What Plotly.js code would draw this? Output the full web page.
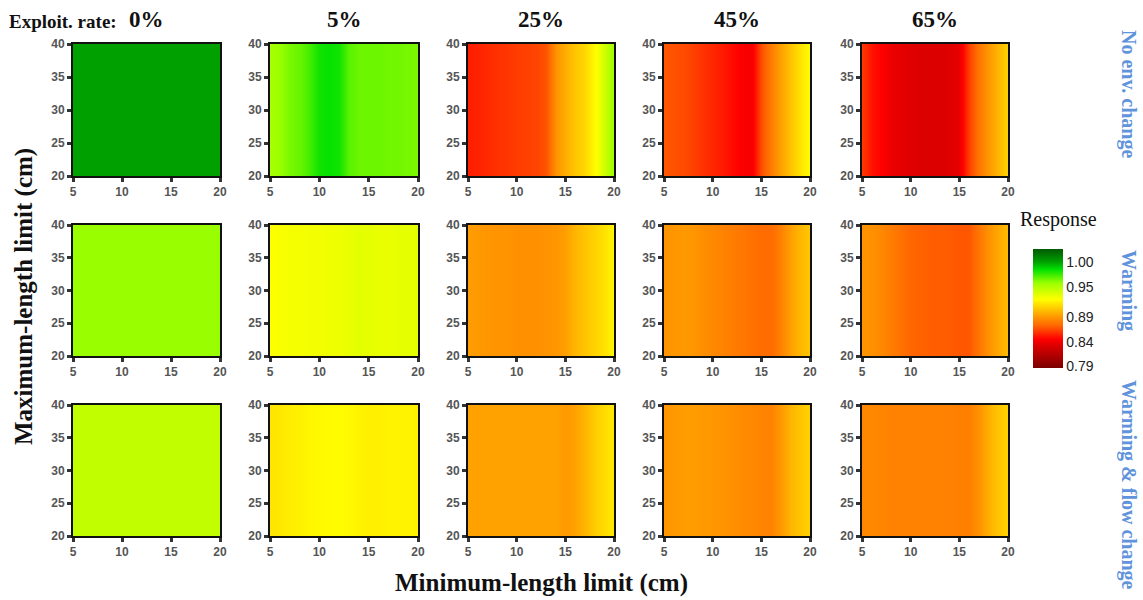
<!DOCTYPE html>
<html>
<head>
<meta charset="utf-8">
<script src="https://cdn.plot.ly/plotly-3.0.1.min.js"></script>
<style>html,body{margin:0;padding:0;background:#fff;}#chart{width:1143px;height:600px;}</style>
</head>
<body>
<div id="chart"></div>
<script>
// ---- Data ----
const minLen = [5, 6, 7, 8, 9, 10, 11, 12, 13, 14, 15, 16, 17, 18, 19, 20];
const maxLen = [20, 40];
const exploitRates = ['0%', '5%', '25%', '45%', '65%'];
const scenarios = ['No env. change', 'Warming', 'Warming & flow change'];

// No env. change
const noEnv0  = [1.000, 1.000, 1.000, 1.000, 1.000, 1.000, 1.000, 1.000, 1.000, 1.000, 1.000, 1.000, 1.000, 1.000, 1.000, 1.000];
const noEnv5  = [0.953, 0.958, 0.964, 0.967, 0.973, 0.982, 0.984, 0.982, 0.969, 0.966, 0.966, 0.966, 0.965, 0.965, 0.964, 0.963];
const noEnv25 = [0.853, 0.854, 0.856, 0.858, 0.859, 0.861, 0.862, 0.863, 0.867, 0.888, 0.897, 0.905, 0.912, 0.924, 0.940, 0.958];
const noEnv45 = [0.868, 0.866, 0.865, 0.862, 0.858, 0.855, 0.852, 0.848, 0.843, 0.842, 0.865, 0.880, 0.893, 0.905, 0.915, 0.925];
const noEnv65 = [0.860, 0.850, 0.845, 0.838, 0.835, 0.833, 0.832, 0.832, 0.832, 0.833, 0.836, 0.862, 0.878, 0.890, 0.900, 0.910];
// Warming
const warm0  = [0.958, 0.958, 0.958, 0.958, 0.958, 0.958, 0.958, 0.958, 0.958, 0.958, 0.958, 0.958, 0.958, 0.958, 0.958, 0.958];
const warm5  = [0.926, 0.927, 0.928, 0.928, 0.929, 0.929, 0.930, 0.930, 0.932, 0.934, 0.933, 0.932, 0.932, 0.933, 0.933, 0.934];
const warm25 = [0.891, 0.890, 0.889, 0.888, 0.888, 0.887, 0.887, 0.887, 0.888, 0.889, 0.892, 0.900, 0.905, 0.910, 0.915, 0.922];
const warm45 = [0.888, 0.889, 0.890, 0.889, 0.886, 0.884, 0.882, 0.880, 0.878, 0.876, 0.874, 0.874, 0.882, 0.893, 0.900, 0.906];
const warm65 = [0.888, 0.887, 0.884, 0.880, 0.876, 0.872, 0.871, 0.870, 0.870, 0.869, 0.868, 0.868, 0.878, 0.888, 0.895, 0.902];
// Warming & flow change
const flow0  = [0.945, 0.945, 0.945, 0.945, 0.945, 0.945, 0.945, 0.945, 0.945, 0.945, 0.945, 0.945, 0.945, 0.945, 0.945, 0.945];
const flow5  = [0.916, 0.917, 0.919, 0.920, 0.922, 0.923, 0.924, 0.924, 0.923, 0.921, 0.920, 0.920, 0.921, 0.921, 0.921, 0.920];
const flow25 = [0.893, 0.893, 0.893, 0.893, 0.893, 0.893, 0.893, 0.893, 0.893, 0.893, 0.890, 0.893, 0.900, 0.908, 0.913, 0.918];
const flow45 = [0.889, 0.890, 0.891, 0.891, 0.890, 0.889, 0.888, 0.887, 0.885, 0.884, 0.883, 0.882, 0.890, 0.900, 0.905, 0.910];
const flow65 = [0.884, 0.884, 0.883, 0.882, 0.882, 0.882, 0.882, 0.882, 0.882, 0.882, 0.881, 0.881, 0.888, 0.898, 0.905, 0.910];

const panels = [
  [noEnv0, noEnv5, noEnv25, noEnv45, noEnv65],
  [warm0, warm5, warm25, warm45, warm65],
  [flow0, flow5, flow25, flow45, flow65]
];

const cbTickVals = [0.79, 0.84, 0.89, 0.95, 1.00];
const cbTickText = ['0.79', '0.84', '0.89', '0.95', '1.00'];

// ---- Style ----
const zMin = 0.787, zMax = 1.026;
const scaleStops = [
  [0.787, '#7a0000'], [0.832, '#dd0000'], [0.845, '#ff0000'], [0.872, '#ff6600'],
  [0.890, '#ff9900'], [0.925, '#ffff00'], [0.958, '#99ff00'], [0.985, '#00e000'],
  [1.000, '#00a000'], [1.026, '#005a00']
];
const colorscale = scaleStops.map(s => [(s[0] - zMin) / (zMax - zMin), s[1]]);

const W = 1143, H = 600;
const colPx = [[73, 220], [270, 418], [468, 614], [664, 810], [862, 1008]];
const rowPx = [[44, 176], [225, 356], [405, 536]];

const traces = [];
const layout = {
  width: W, height: H, autosize: false,
  margin: {l: 0, r: 0, t: 0, b: 0},
  paper_bgcolor: '#fff', plot_bgcolor: '#fff',
  showlegend: false,
  annotations: []
};

const serif = 'Liberation Serif, Times New Roman, serif';
const sans = 'Liberation Sans, Arial, sans-serif';

for (let r = 0; r < 3; r++) {
  for (let c = 0; c < 5; c++) {
    const i = r * 5 + c + 1;
    const xa = i === 1 ? 'x' : 'x' + i;
    const ya = i === 1 ? 'y' : 'y' + i;
    const row = panels[r][c];
    const t = {
      type: 'heatmap',
      x: minLen, y: maxLen,
      z: maxLen.map(() => row),
      zmin: zMin, zmax: zMax,
      colorscale: colorscale,
      zsmooth: 'best',
      showscale: false,
      xaxis: xa, yaxis: ya,
      hoverinfo: 'x+y+z'
    };
    if (r === 0 && c === 0) {
      t.showscale = true;
      t.colorbar = {
        x: 1033 / W, xanchor: 'left',
        y: 1 - 308.5 / H, yanchor: 'middle',
        len: 119 / H, lenmode: 'fraction',
        thickness: 30, thicknessmode: 'pixels',
        xpad: 0, ypad: 0,
        outlinewidth: 0,
        tickmode: 'array', tickvals: cbTickVals, ticktext: cbTickText,
        ticks: '', ticklabelposition: 'outside',
        tickfont: {family: sans, size: 14, color: '#222'}
      };
    }
    traces.push(t);
    const axCommon = {
      showline: true, linecolor: '#111', linewidth: 2, mirror: true,
      ticks: 'outside', ticklen: 4, tickwidth: 3, tickcolor: '#333',
      showgrid: false, zeroline: false,
      tickfont: {family: sans, size: 12, color: '#555', weight: 'bold'}
    };
    layout['xaxis' + (i === 1 ? '' : i)] = Object.assign({}, axCommon, {
      domain: [colPx[c][0] / W, colPx[c][1] / W],
      anchor: ya, range: [5, 20], tickvals: [5, 10, 15, 20], fixedrange: true
    });
    layout['yaxis' + (i === 1 ? '' : i)] = Object.assign({}, axCommon, {
      domain: [1 - rowPx[r][1] / H, 1 - rowPx[r][0] / H],
      anchor: xa, range: [20, 40], tickvals: [20, 25, 30, 35, 40], fixedrange: true
    });
  }
}

// Column titles
layout.annotations.push({
  xref: 'paper', yref: 'paper', x: 7 / W, y: 1 - 21 / H, xanchor: 'left', yanchor: 'middle',
  text: '<b>Exploit. rate:</b>', showarrow: false,
  font: {family: serif, size: 19, color: '#111'}
});
exploitRates.forEach((e, c) => {
  layout.annotations.push({
    xref: 'paper', yref: 'paper', x: (colPx[c][0] + colPx[c][1]) / 2 / W, y: 1 - 20 / H,
    xanchor: 'center', yanchor: 'middle', text: '<b>' + e + '</b>', showarrow: false,
    font: {family: serif, size: 23, color: '#111'}
  });
});
// Row labels (right side)
const rowLabelY = [94, 290, 485];
scenarios.forEach((s, r) => {
  layout.annotations.push({
    xref: 'paper', yref: 'paper', x: 1129 / W, y: 1 - rowLabelY[r] / H,
    xanchor: 'center', yanchor: 'middle', text: '<b>' + s + '</b>', showarrow: false,
    textangle: 90,
    font: {family: serif, size: 20, color: '#5f93dc'}
  });
});
// Axis titles
layout.annotations.push({
  xref: 'paper', yref: 'paper', x: 541 / W, y: 1 - 583 / H, xanchor: 'center', yanchor: 'middle',
  text: '<b>Minimum-length limit (cm)</b>', showarrow: false,
  font: {family: serif, size: 25, color: '#111'}
});
layout.annotations.push({
  xref: 'paper', yref: 'paper', x: 24 / W, y: 1 - 297 / H, xanchor: 'center', yanchor: 'middle',
  text: '<b>Maximum-length limit (cm)</b>', showarrow: false, textangle: -90,
  font: {family: serif, size: 25, color: '#111'}
});
// Colorbar title
layout.annotations.push({
  xref: 'paper', yref: 'paper', x: 1018 / W, y: 1 - 219 / H, xanchor: 'left', yanchor: 'middle',
  text: 'Response', showarrow: false,
  font: {family: serif, size: 20, color: '#111'}
});

Plotly.newPlot('chart', traces, layout, {displayModeBar: false, staticPlot: true});
</script>
</body>
</html>
